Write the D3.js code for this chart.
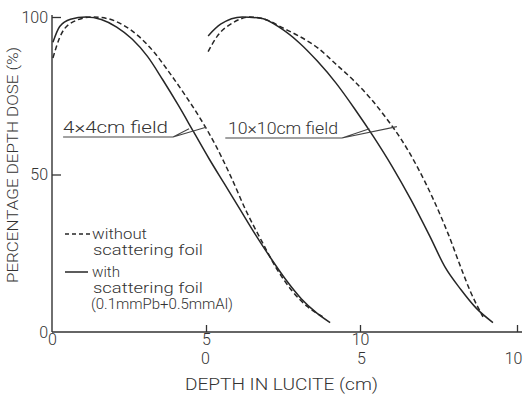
<!DOCTYPE html>
<html lang="en">
<head>
    <meta charset="UTF-8">
    <title>Percentage depth dose</title>
    <script src="https://d3js.org/d3.v7.min.js"></script>
    <style>
        body { margin: 0; background: #fff; }
        svg { display: block; }
        text {
            font-family: "Roboto", "DejaVu Sans", sans-serif;
            font-weight: 300;
            fill: #333;
        }
        .axis path { display: none; }
        .axis line { stroke: #333; stroke-width: 1.3px; }
        .axis text { font-size: 16px; fill: #333; font-family: "Roboto", sans-serif; }
        .curve { fill: none; stroke: #262626; stroke-width: 1.5px; }
        .dashed { stroke-dasharray: 5 3; }
        .leader { fill: none; stroke: #444; stroke-width: 1.1px; }
    </style>
</head>
<body>
<svg width="524" height="396"></svg>
<script>
    // depth (cm) / dose (%)
    // 4x4 cm field, plotted on the first depth scale
    const small_with = [
        [0.03, 92], [0.25, 97], [0.6, 99.3], [1.1, 100], [1.6, 99.2], [2.1, 96.8],
        [2.6, 93], [3.1, 87.5], [3.6, 80], [4.1, 72], [4.6, 63.5], [5.1, 55],
        [5.6, 47], [6.1, 39], [6.6, 31], [7.1, 23.5], [7.6, 16.5], [8.1, 10.5],
        [8.6, 6], [9.03, 3]
    ];
    const small_without = [
        [0.03, 87], [0.25, 93.5], [0.6, 98], [1.3, 100], [1.8, 99.5], [2.3, 97.5],
        [2.8, 94], [3.3, 89], [3.8, 82.5], [4.3, 75.5], [4.8, 68], [5.3, 59.5],
        [5.8, 49.5], [6.3, 38.5], [6.8, 29], [7.3, 20], [7.8, 13], [8.3, 8], [8.8, 4.8]
    ];
    // 10x10 cm field, plotted on the second (shifted) depth scale
    const large_with = [
        [0.1, 94], [0.5, 97.7], [1.2, 100], [1.8, 99.6], [2.4, 96.6], [3.0, 92],
        [3.6, 86], [4.2, 79], [4.8, 70.8], [5.4, 62], [6.0, 52.5], [6.6, 42],
        [7.2, 30.5], [7.7, 20.5], [8.2, 13.5], [8.7, 7.5], [9.23, 3]
    ];
    const large_without = [
        [0.1, 89], [0.4, 94], [0.9, 98.2], [1.45, 100], [2.0, 99], [2.5, 96.5],
        [3.0, 94], [3.6, 90.3], [4.2, 85], [4.8, 79.5], [5.3, 74.2], [5.8, 68],
        [6.3, 61], [6.8, 52.5], [7.3, 42.5], [7.8, 31], [8.2, 20.5], [8.5, 13],
        [8.91, 4.8]
    ];
    const yTicks = [0, 50, 100];
    const xTicks = [0, 5, 10];

    const svg = d3.select("svg");

    const y = d3.scaleLinear().domain([0, 100]).range([332, 17]);
    const x1 = d3.scaleLinear().domain([0, 10]).range([52, 360]);
    const x2 = d3.scaleLinear().domain([0, 10]).range([205, 517]);

    // axis lines
    svg.append("line")
        .attr("x1", x1(0)).attr("x2", x1(0))
        .attr("y1", y(100) - 2).attr("y2", y(0))
        .attr("stroke", "#333").attr("stroke-width", 1.4);
    svg.append("line")
        .attr("x1", x1(0)).attr("x2", x2(10) + 5)
        .attr("y1", y(0)).attr("y2", y(0))
        .attr("stroke", "#333").attr("stroke-width", 1.6);

    svg.append("g").attr("class", "axis")
        .attr("transform", `translate(${x1(0)},0)`)
        .call(d3.axisLeft(y).tickValues(yTicks).tickSizeInner(-9).tickPadding(4).tickFormat(d3.format("d")))
        .selectAll(".tick").filter(d => d === 0).select("line").remove();

    // first depth scale (4x4 field)
    svg.append("g").attr("class", "axis")
        .attr("transform", `translate(0,${y(0)})`)
        .call(d3.axisBottom(x1).tickValues(xTicks).tickSizeInner(-7).tickPadding(2))
        .selectAll(".tick").filter(d => d === 0).select("line").remove();

    // second depth scale (10x10 field), labels one row below
    const ax2 = svg.append("g").attr("class", "axis")
        .attr("transform", `translate(0,${y(0)})`)
        .call(d3.axisBottom(x2).tickValues(xTicks).tickSizeInner(-7).tickPadding(21));
    ax2.selectAll(".tick line").filter(d => d !== 10).remove();
    ax2.selectAll(".tick text").filter(d => d === 10).attr("dx", -4);

    svg.append("text")
        .attr("x", 185).attr("y", 390)
        .attr("textLength", 193).attr("lengthAdjust", "spacingAndGlyphs")
        .style("font-size", "16px")
        .text("DEPTH IN LUCITE (cm)");

    svg.append("text")
        .attr("transform", "translate(18,283) rotate(-90)")
        .attr("textLength", 236).attr("lengthAdjust", "spacingAndGlyphs")
        .style("font-size", "15px")
        .text("PERCENTAGE DEPTH DOSE (%)");

    const line1 = d3.line().x(d => x1(d[0])).y(d => y(d[1])).curve(d3.curveMonotoneX);
    const line2 = d3.line().x(d => x2(d[0])).y(d => y(d[1])).curve(d3.curveMonotoneX);

    svg.append("path").attr("class", "curve").attr("d", line1(small_with));
    svg.append("path").attr("class", "curve dashed").attr("d", line1(small_without));
    svg.append("path").attr("class", "curve").attr("d", line2(large_with));
    svg.append("path").attr("class", "curve dashed").attr("d", line2(large_without));

    // field labels with leader lines
    const fieldLabels = [
        { text: "4\u00d74cm field", sx: x1, from: 0.36, to: 3.93, lev: 61.9, a: [4.45, 64.5], b: [5.0, 65], tx: 63, tw: 105 },
        { text: "10\u00d710cm field", sx: x2, from: 0.65, to: 4.39, lev: 61.6, a: [5.27, 64.5], b: [6.15, 65.2], tx: 228, tw: 110 }
    ];
    fieldLabels.forEach(f => {
        svg.append("text")
            .attr("x", f.tx).attr("y", y(f.lev) - 4)
            .attr("textLength", f.tw).attr("lengthAdjust", "spacingAndGlyphs")
            .style("font-size", "17px")
            .text(f.text);
        svg.append("path").attr("class", "leader")
            .attr("d", `M${f.sx(f.from)},${y(f.lev)}H${f.sx(f.to)}L${f.sx(f.a[0])},${y(f.a[1])}M${f.sx(f.to)},${y(f.lev)}L${f.sx(f.b[0])},${y(f.b[1])}`);
    });

    // legend
    const legend = svg.append("g").attr("transform", "translate(65,0)");
    legend.append("line").attr("class", "curve dashed")
        .attr("x1", 0).attr("x2", 25).attr("y1", 234).attr("y2", 234)
        .style("stroke-dasharray", "4 3");
    legend.append("line").attr("class", "curve")
        .attr("x1", 0).attr("x2", 23).attr("y1", 272).attr("y2", 272);
    const legendRows = [
        { t: "without", x: 27, y: 239, w: 55 },
        { t: "scattering foil", x: 28, y: 255, w: 110 },
        { t: "with", x: 27, y: 277, w: 28 },
        { t: "scattering foil", x: 28, y: 293, w: 110 },
        { t: "(0.1mmPb+0.5mmAl)", x: 26, y: 309, w: 142 }
    ];
    legend.selectAll("text.leg").data(legendRows).enter().append("text")
        .attr("class", "leg")
        .attr("x", d => d.x).attr("y", d => d.y)
        .attr("textLength", d => d.w).attr("lengthAdjust", "spacingAndGlyphs")
        .style("font-size", "14px")
        .text(d => d.t);
</script>
</body>
</html>
